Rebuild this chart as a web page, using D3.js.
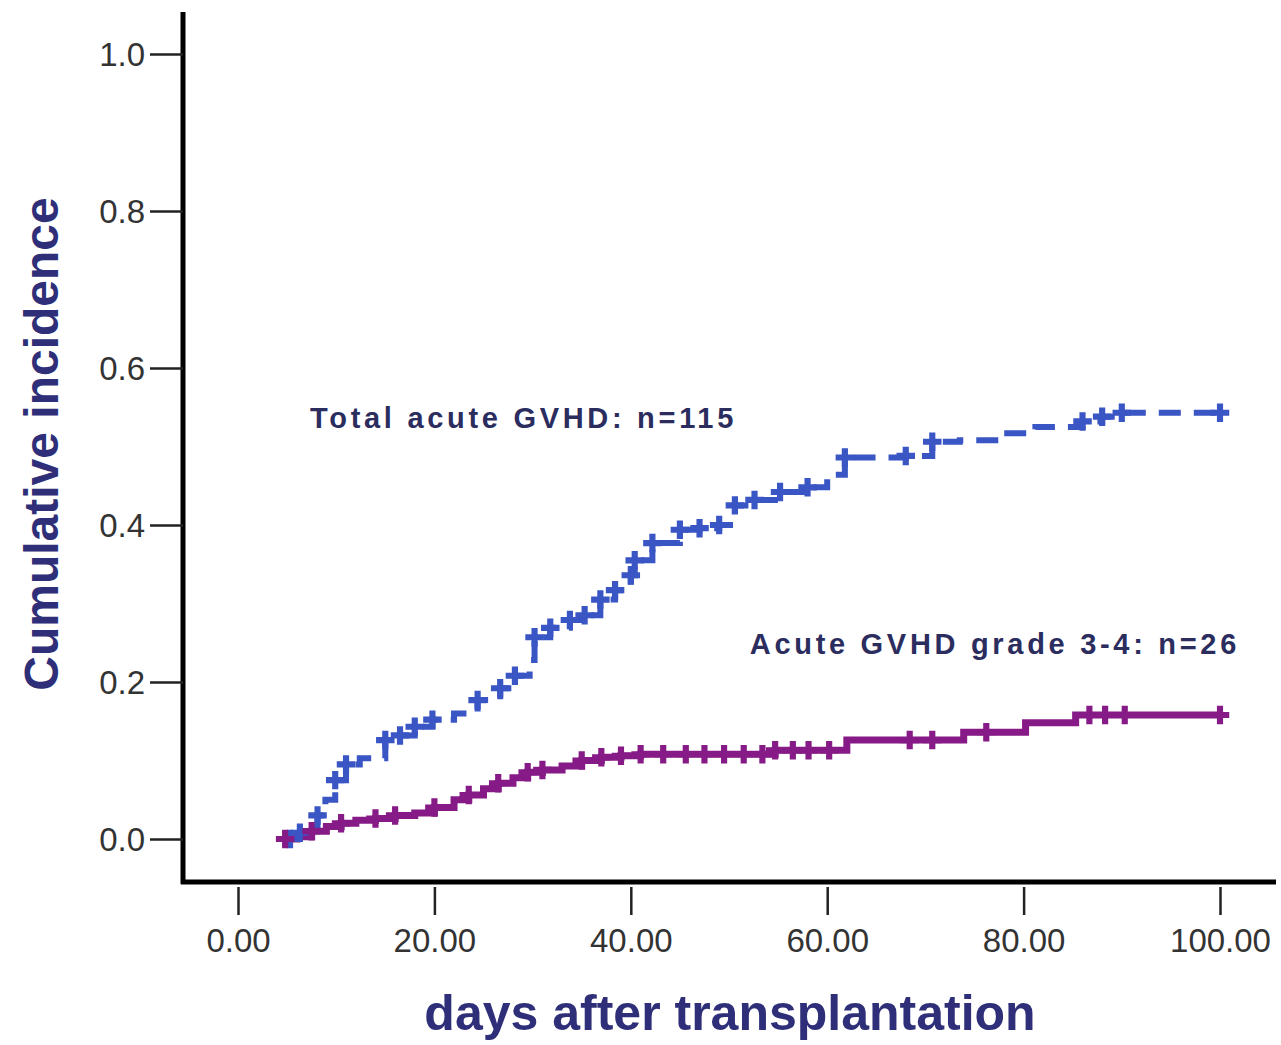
<!DOCTYPE html>
<html>
<head>
<meta charset="utf-8">
<script src="https://cdn.jsdelivr.net/npm/d3@7"></script>
<style>
  body { margin: 0; background: #fff; }
  .tick-lab { font-family: "Liberation Sans Narrow", "Liberation Sans", Arial, sans-serif; font-size: 33px; fill: #333; }
  .ann { font-family: "Liberation Sans", Arial, sans-serif; font-weight: bold; font-size: 29px; fill: #2b2d5e; letter-spacing: 3.7px; }
  .ttl { font-family: "Liberation Sans", Arial, sans-serif; font-weight: bold; fill: #2e2f78; }
</style>
</head>
<body>
<script>
var w = 1281;
var h = 1045;

// data: step curves (day, cumulative incidence), censored flag 1 = plus mark
var totalDays = [5.3, 6.3, 7.5, 8.1, 8.9, 9.9, 11.0, 12.4, 15.0, 16.5, 18.0, 19.8, 22.0, 24.4, 26.7, 28.2,
                 29.7, 30.2, 31.8, 33.8, 35.3, 36.9, 38.4, 40.0, 40.4, 42.2, 45.0, 47.0, 49.0, 50.6, 52.6,
                 55.2, 58.0, 60.0, 61.8, 65.4, 68.0, 70.7, 73.5, 77.6, 81.2, 86.0, 88.0, 90.0, 100.0];
var totalVals = [0, 0.008, 0.015, 0.03, 0.05, 0.075, 0.095, 0.103, 0.126, 0.132, 0.143, 0.152, 0.16, 0.177, 0.192, 0.208,
                 0.228, 0.257, 0.269, 0.279, 0.285, 0.305, 0.317, 0.336, 0.355, 0.377, 0.394, 0.396, 0.40, 0.425, 0.432,
                 0.442, 0.448, 0.464, 0.486, 0.486, 0.488, 0.506, 0.508, 0.517, 0.525, 0.532, 0.538, 0.543, 0.543];
var totalCens = [1, 1, 0, 1, 0, 1, 1, 0, 1, 1, 1, 1, 0, 1, 1, 1,
                 0, 1, 1, 1, 1, 1, 1, 1, 1, 1, 1, 1, 1, 1, 1,
                 1, 1, 0, 1, 0, 1, 1, 0, 0, 0, 1, 1, 1, 1];

var severeDays = [4.8, 6.0, 7.5, 9.0, 10.5, 12.0, 14.0, 16.0, 18.0, 20.0, 22.0, 23.5, 25.0, 26.5, 28.0, 29.5,
                  31.0, 33.0, 35.0, 37.0, 39.0, 41.0, 43.3, 45.6, 47.5, 49.5, 51.5, 53.4, 54.7, 56.5, 58.1,
                  60.2, 62.0, 68.4, 70.7, 73.9, 76.2, 80.2, 85.3, 86.7, 88.3, 90.3, 100.0];
var severeVals = [0, 0.003, 0.01, 0.016, 0.02, 0.024, 0.026, 0.03, 0.033, 0.04, 0.05, 0.056, 0.064, 0.071, 0.078, 0.085,
                  0.088, 0.093, 0.10, 0.104, 0.106, 0.108, 0.108, 0.108, 0.108, 0.108, 0.108, 0.108, 0.113, 0.113, 0.113,
                  0.113, 0.126, 0.126, 0.126, 0.136, 0.136, 0.148, 0.158, 0.158, 0.158, 0.158, 0.158];
var severeCens = [1, 0, 1, 0, 1, 0, 1, 1, 0, 1, 0, 1, 0, 1, 0, 1,
                  1, 0, 1, 1, 1, 1, 1, 1, 1, 1, 1, 1, 1, 1, 1,
                  1, 0, 1, 1, 0, 1, 0, 0, 1, 1, 1, 1];

var xTicks = [0, 20, 40, 60, 80, 100];
var yTicks = [0, 0.2, 0.4, 0.6, 0.8, 1.0];

var colTotal = "#3a55c4";
var colSevere = "#861a86";

var toRows = function(days, vals, cens) {
    var out = [];
    for (var i = 0; i < days.length; i++) {
        out.push({ day: days[i], val: vals[i], cens: cens[i] });
    }
    return out;
};
var totalData = toRows(totalDays, totalVals, totalCens);
var severeData = toRows(severeDays, severeVals, severeCens);

// scales
var scaleX = d3.scaleLinear().domain([0, 100]).range([238, 1220]);
var scaleY = d3.scaleLinear().domain([0, 1]).range([839, 54]);

var svg = d3.select("body").append("svg")
            .attr("width", w)
            .attr("height", h);

// axis lines
svg.append("line")
   .attr("x1", 183).attr("y1", 12).attr("x2", 183).attr("y2", 884)
   .attr("stroke", "#000").attr("stroke-width", 5);
svg.append("line")
   .attr("x1", 181).attr("y1", 882).attr("x2", 1276).attr("y2", 882)
   .attr("stroke", "#000").attr("stroke-width", 5);

// y axis ticks (d3 axis, domain path hidden)
var axisY = d3.axisLeft(scaleY).tickValues(yTicks).tickSize(33).tickPadding(5)
              .tickFormat(d3.format(".1f"));
var gY = svg.append("g").attr("transform", "translate(183,0)").call(axisY);
gY.select(".domain").remove();
gY.selectAll(".tick line").attr("stroke", "#222").attr("stroke-width", 2.5);
gY.selectAll(".tick text").attr("class", "tick-lab").attr("dy", "0.36em");
gY.attr("font-size", null).attr("font-family", null);

// x axis ticks
var axisX = d3.axisBottom(scaleX).tickValues(xTicks).tickSize(28).tickPadding(14)
              .tickFormat(d3.format(".2f"));
var gX = svg.append("g").attr("transform", "translate(0,887)").call(axisX);
gX.select(".domain").remove();
gX.selectAll(".tick line").attr("stroke", "#222").attr("stroke-width", 2.5);
gX.selectAll(".tick text").attr("class", "tick-lab");
gX.attr("font-size", null).attr("font-family", null);

// step lines
var stepLine = d3.line()
                 .x(function(d) { return scaleX(d.day); })
                 .y(function(d) { return scaleY(d.val); })
                 .curve(d3.curveStepAfter);

svg.append("path")
   .datum(totalData)
   .attr("d", stepLine)
   .attr("fill", "none")
   .attr("stroke", colTotal)
   .attr("stroke-width", 6)
   .attr("stroke-dasharray", "22,13");

svg.append("path")
   .datum(severeData)
   .attr("d", stepLine)
   .attr("fill", "none")
   .attr("stroke", colSevere)
   .attr("stroke-width", 7);

// censor marks
var cross = d3.symbol().type(d3.symbolCross).size(190);
svg.selectAll(".m-total")
   .data(totalData.filter(function(d) { return d.cens === 1; }))
   .enter().append("path")
   .attr("class", "m-total")
   .attr("d", cross)
   .attr("transform", function(d) { return "translate(" + scaleX(d.day) + "," + scaleY(d.val) + ")"; })
   .attr("fill", colTotal);
svg.selectAll(".m-severe")
   .data(severeData.filter(function(d) { return d.cens === 1; }))
   .enter().append("path")
   .attr("class", "m-severe")
   .attr("d", cross)
   .attr("transform", function(d) { return "translate(" + scaleX(d.day) + "," + scaleY(d.val) + ")"; })
   .attr("fill", colSevere);

// annotations
svg.append("text").attr("class", "ann")
   .attr("x", 310).attr("y", 428)
   .text("Total acute GVHD: n=115");
svg.append("text").attr("class", "ann")
   .attr("x", 1240).attr("y", 654).attr("text-anchor", "end")
   .text("Acute GVHD grade 3-4: n=26");

// axis titles
svg.append("text").attr("class", "ttl")
   .attr("transform", "translate(58,444) rotate(-90)")
   .attr("text-anchor", "middle")
   .style("font-size", "48px")
   .text("Cumulative incidence");
svg.append("text").attr("class", "ttl")
   .attr("x", 730).attr("y", 1030)
   .attr("text-anchor", "middle")
   .style("font-size", "50px")
   .text("days after transplantation");
</script>
</body>
</html>
